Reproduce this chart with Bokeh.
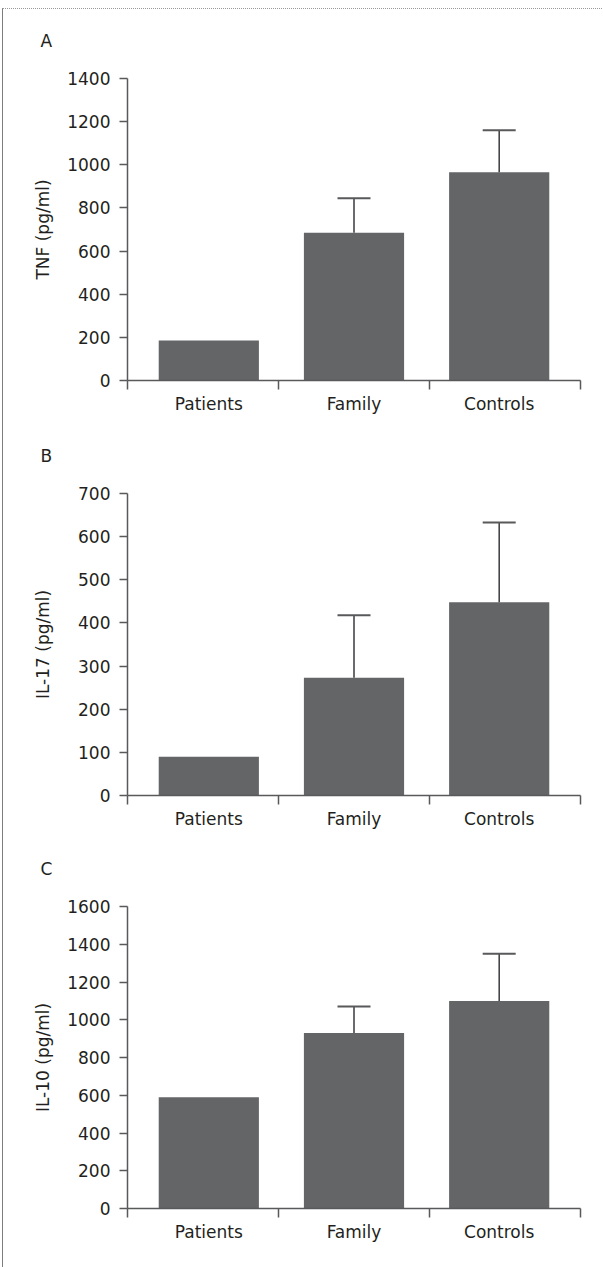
from bokeh.plotting import figure
from bokeh.layouts import column
from bokeh.models import FixedTicker, Range1d, ColumnDataSource, Whisker, TeeHead
from bokeh.embed import file_html
from bokeh.resources import INLINE

# ---------------- data ----------------
categories = ["Patients", "Family", "Controls"]
panel_letters = ["A", "B", "C"]
y_titles = ["TNF (pg/ml)", "IL-17 (pg/ml)", "IL-10 (pg/ml)"]

tnf_mean = [185, 685, 965]
tnf_upper = [None, 845, 1160]
il17_mean = [90, 273, 448]
il17_upper = [None, 418, 633]
il10_mean = [590, 930, 1100]
il10_upper = [None, 1070, 1350]

tnf_ticks = [0, 200, 400, 600, 800, 1000, 1200, 1400]
il17_ticks = [0, 100, 200, 300, 400, 500, 600, 700]
il10_ticks = [0, 200, 400, 600, 800, 1000, 1200, 1400, 1600]

panels = [
    (panel_letters[0], y_titles[0], tnf_mean, tnf_upper, tnf_ticks),
    (panel_letters[1], y_titles[1], il17_mean, il17_upper, il17_ticks),
    (panel_letters[2], y_titles[2], il10_mean, il10_upper, il10_ticks),
]

# ---------------- style ----------------
FONT = "DejaVu Sans"
FS = "17px"
TXT = "#231f20"
AX = "#58595b"
BAR = "#646567"

W = 599
X0, X1 = -0.06, 3.06
BAR_W = 0.69
LEFT = 124
FRAME_W = 453
FRAME_H = 302


def make_panel(letter, ytitle, means, uppers, yticks, idx):
    h = 432 if idx == 2 else 413
    top = 69 if idx == 0 else 71
    p = figure(width=W, height=h, output_backend="svg", toolbar_location=None,
               x_range=Range1d(X0, X1), y_range=Range1d(yticks[0], yticks[-1]),
               min_border_left=LEFT, min_border_right=W - LEFT - FRAME_W,
               min_border_top=top, min_border_bottom=h - top - FRAME_H)
    p.outline_line_color = None
    p.grid.visible = False
    p.background_fill_color = "white"
    p.border_fill_color = "white"

    # panel letter (second, empty line lifts the letter above the frame)
    p.title.text = letter + "\n"
    p.title.align = "left"
    p.title.offset = -87
    p.title.standoff = 16
    p.title.text_font = FONT
    p.title.text_font_size = FS
    p.title.text_font_style = "normal"
    p.title.text_color = TXT

    xs = [i + 0.5 for i in range(len(categories))]
    src = ColumnDataSource(dict(x=xs, mean=means, cat=categories))
    p.vbar(x="x", top="mean", bottom=0, width=BAR_W, source=src,
           fill_color=BAR, line_color=None)

    ex = [xs[i] for i in range(len(xs)) if uppers[i] is not None]
    el = [means[i] for i in range(len(xs)) if uppers[i] is not None]
    eu = [uppers[i] for i in range(len(xs)) if uppers[i] is not None]
    esrc = ColumnDataSource(dict(x=ex, lower=el, upper=eu))
    w = Whisker(base="x", lower="lower", upper="upper", source=esrc,
                line_color="#3a3a3c", line_width=1.5,
                upper_head=TeeHead(size=33, line_color=AX, line_width=2),
                lower_head=None, level="glyph")
    p.add_layout(w)

    # x axis: labels at bar centres, ticks dividing the axis into thirds
    xa = p.xaxis[0]
    span = X1 - X0
    xa.ticker = FixedTicker(ticks=xs,
                            minor_ticks=[X0, X0 + span / 3, X0 + 2 * span / 3, X1])
    xa.major_label_overrides = {xs[i]: categories[i] for i in range(len(xs))}
    xa.major_tick_line_color = None
    xa.major_tick_in = 0
    xa.major_tick_out = 0
    xa.minor_tick_in = 0
    xa.minor_tick_out = 9
    xa.minor_tick_line_color = AX
    xa.minor_tick_line_width = 1.5
    xa.axis_line_color = AX
    xa.axis_line_width = 1.5
    xa.major_label_text_font = FONT
    xa.major_label_text_font_size = FS
    xa.major_label_text_color = TXT
    xa.major_label_standoff = 4

    ya = p.yaxis[0]
    ya.ticker = FixedTicker(ticks=yticks)
    ya.major_tick_in = 0
    ya.major_tick_out = 8
    ya.major_tick_line_color = AX
    ya.major_tick_line_width = 1.5
    ya.minor_tick_line_color = None
    ya.axis_line_color = AX
    ya.axis_line_width = 1.5
    ya.major_label_text_font = FONT
    ya.major_label_text_font_size = FS
    ya.major_label_text_color = TXT
    ya.major_label_standoff = 9
    ya.axis_label = ytitle
    ya.axis_label_text_font = FONT
    ya.axis_label_text_font_size = FS
    ya.axis_label_text_font_style = "normal"
    ya.axis_label_text_color = TXT
    widest = max(len(str(t)) for t in yticks)
    ya.axis_label_standoff = 11 + (4 - widest) * 11
    return p


figs = [make_panel(*pn, idx=i) for i, pn in enumerate(panels)]

layout = column(*figs, spacing=0,
                styles={"margin-left": "2px", "margin-top": "8px",
                        "border-left": "1.5px solid #7d7d7d",
                        "border-top": "1px dotted #9a9a9a"})

open("out.html", "w").write(file_html(layout, INLINE))
